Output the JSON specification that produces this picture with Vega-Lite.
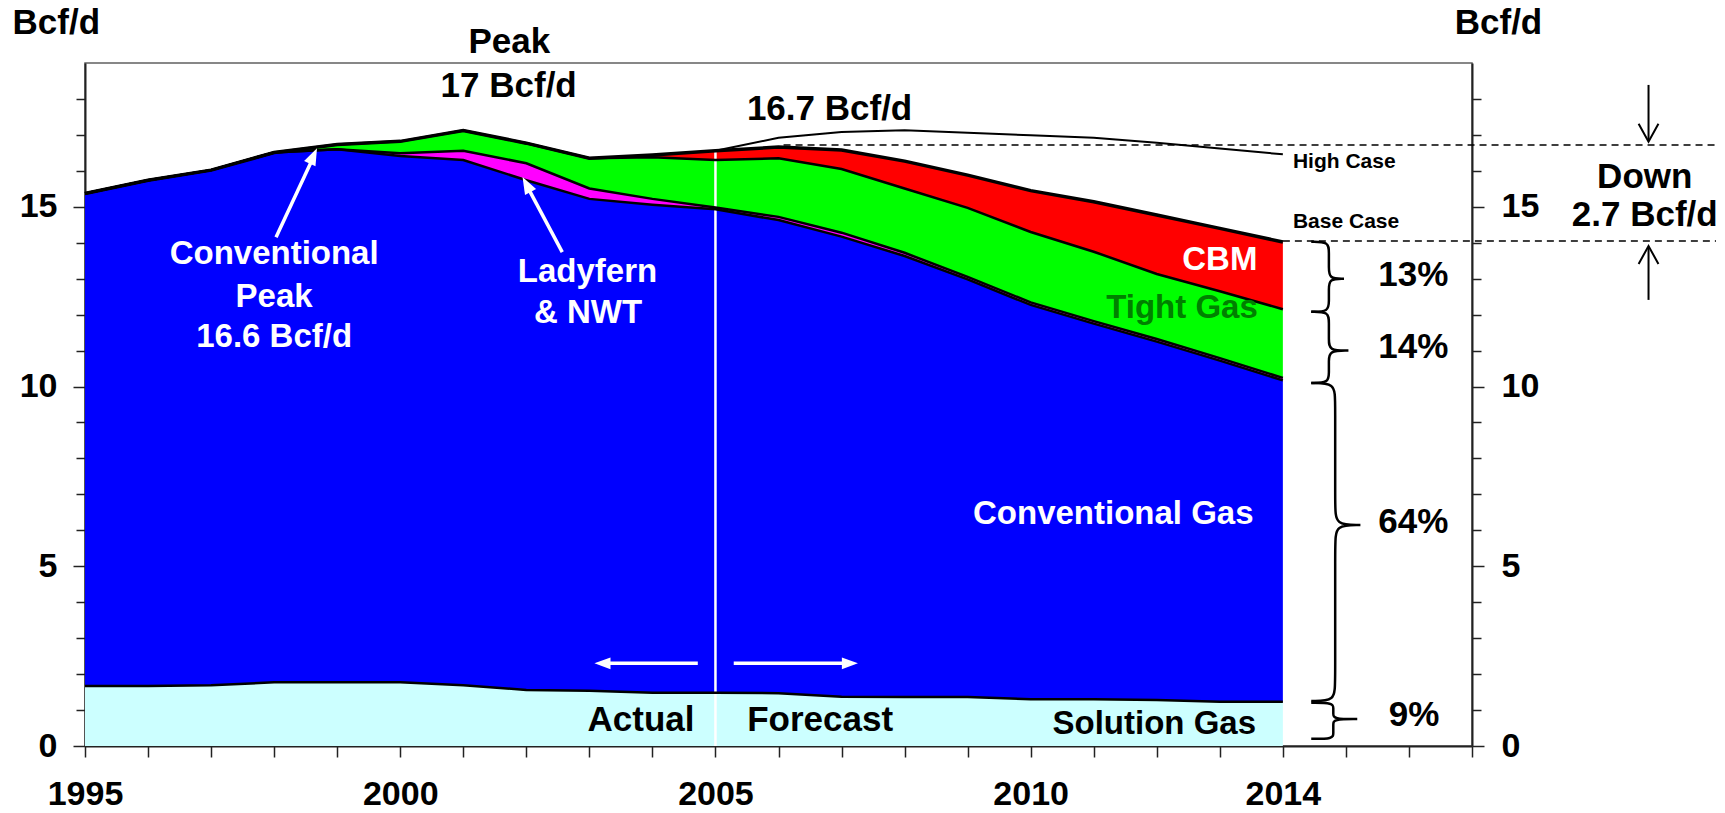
{
"$schema":"https://vega.github.io/schema/vega-lite/v6.json",
"width":1387,"height":683,"autosize":"none",
"padding":{"left":85,"top":63,"right":253,"bottom":67},
"background":"white",
"config":{
 "view":{"stroke":"#606060","strokeWidth":1.5},
 "axis":{"labelFont":"Liberation Sans","labelFontWeight":"bold","labelFontSize":34,"labelColor":"black","domainColor":"#222","domainWidth":2,"tickColor":"#222","tickWidth":1.5,"grid":false,"zindex":2},
 "text":{"font":"Liberation Sans","fontWeight":"bold"}
},
"datasets":{
 "gas":[
{"year":1995,"series":"Solution Gas","ord":1,"value":1.67},{"year":1995,"series":"Conventional Gas","ord":2,"value":13.70},{"year":1995,"series":"Ladyfern & NWT","ord":3,"value":0},{"year":1995,"series":"Tight Gas","ord":4,"value":0},{"year":1995,"series":"CBM","ord":5,"value":0},
{"year":1996,"series":"Solution Gas","ord":1,"value":1.67},{"year":1996,"series":"Conventional Gas","ord":2,"value":14.07},{"year":1996,"series":"Ladyfern & NWT","ord":3,"value":0},{"year":1996,"series":"Tight Gas","ord":4,"value":0},{"year":1996,"series":"CBM","ord":5,"value":0},
{"year":1997,"series":"Solution Gas","ord":1,"value":1.69},{"year":1997,"series":"Conventional Gas","ord":2,"value":14.33},{"year":1997,"series":"Ladyfern & NWT","ord":3,"value":0},{"year":1997,"series":"Tight Gas","ord":4,"value":0},{"year":1997,"series":"CBM","ord":5,"value":0},
{"year":1998,"series":"Solution Gas","ord":1,"value":1.77},{"year":1998,"series":"Conventional Gas","ord":2,"value":14.74},{"year":1998,"series":"Ladyfern & NWT","ord":3,"value":0},{"year":1998,"series":"Tight Gas","ord":4,"value":0},{"year":1998,"series":"CBM","ord":5,"value":0},
{"year":1999,"series":"Solution Gas","ord":1,"value":1.77},{"year":1999,"series":"Conventional Gas","ord":2,"value":14.83},{"year":1999,"series":"Ladyfern & NWT","ord":3,"value":0},{"year":1999,"series":"Tight Gas","ord":4,"value":0.13},{"year":1999,"series":"CBM","ord":5,"value":0},
{"year":2000,"series":"Solution Gas","ord":1,"value":1.77},{"year":2000,"series":"Conventional Gas","ord":2,"value":14.64},{"year":2000,"series":"Ladyfern & NWT","ord":3,"value":0.08},{"year":2000,"series":"Tight Gas","ord":4,"value":0.33},{"year":2000,"series":"CBM","ord":5,"value":0},
{"year":2001,"series":"Solution Gas","ord":1,"value":1.69},{"year":2001,"series":"Conventional Gas","ord":2,"value":14.61},{"year":2001,"series":"Ladyfern & NWT","ord":3,"value":0.26},{"year":2001,"series":"Tight Gas","ord":4,"value":0.56},{"year":2001,"series":"CBM","ord":5,"value":0},
{"year":2002,"series":"Solution Gas","ord":1,"value":1.56},{"year":2002,"series":"Conventional Gas","ord":2,"value":14.18},{"year":2002,"series":"Ladyfern & NWT","ord":3,"value":0.47},{"year":2002,"series":"Tight Gas","ord":4,"value":0.56},{"year":2002,"series":"CBM","ord":5,"value":0},
{"year":2003,"series":"Solution Gas","ord":1,"value":1.54},{"year":2003,"series":"Conventional Gas","ord":2,"value":13.68},{"year":2003,"series":"Ladyfern & NWT","ord":3,"value":0.29},{"year":2003,"series":"Tight Gas","ord":4,"value":0.84},{"year":2003,"series":"CBM","ord":5,"value":0},
{"year":2004,"series":"Solution Gas","ord":1,"value":1.48},{"year":2004,"series":"Conventional Gas","ord":2,"value":13.58},{"year":2004,"series":"Ladyfern & NWT","ord":3,"value":0.16},{"year":2004,"series":"Tight Gas","ord":4,"value":1.16},{"year":2004,"series":"CBM","ord":5,"value":0.06},
{"year":2005,"series":"Solution Gas","ord":1,"value":1.48},{"year":2005,"series":"Conventional Gas","ord":2,"value":13.45},{"year":2005,"series":"Ladyfern & NWT","ord":3,"value":0.05},{"year":2005,"series":"Tight Gas","ord":4,"value":1.32},{"year":2005,"series":"CBM","ord":5,"value":0.26},
{"year":2006,"series":"Solution Gas","ord":1,"value":1.47},{"year":2006,"series":"Conventional Gas","ord":2,"value":13.16},{"year":2006,"series":"Ladyfern & NWT","ord":3,"value":0.09},{"year":2006,"series":"Tight Gas","ord":4,"value":1.63},{"year":2006,"series":"CBM","ord":5,"value":0.31},
{"year":2007,"series":"Solution Gas","ord":1,"value":1.37},{"year":2007,"series":"Conventional Gas","ord":2,"value":12.80},{"year":2007,"series":"Ladyfern & NWT","ord":3,"value":0.11},{"year":2007,"series":"Tight Gas","ord":4,"value":1.77},{"year":2007,"series":"CBM","ord":5,"value":0.53},
{"year":2008,"series":"Solution Gas","ord":1,"value":1.36},{"year":2008,"series":"Conventional Gas","ord":2,"value":12.27},{"year":2008,"series":"Ladyfern & NWT","ord":3,"value":0.09},{"year":2008,"series":"Tight Gas","ord":4,"value":1.79},{"year":2008,"series":"CBM","ord":5,"value":0.76},
{"year":2009,"series":"Solution Gas","ord":1,"value":1.36},{"year":2009,"series":"Conventional Gas","ord":2,"value":11.62},{"year":2009,"series":"Ladyfern & NWT","ord":3,"value":0.07},{"year":2009,"series":"Tight Gas","ord":4,"value":1.92},{"year":2009,"series":"CBM","ord":5,"value":0.91},
{"year":2010,"series":"Solution Gas","ord":1,"value":1.30},{"year":2010,"series":"Conventional Gas","ord":2,"value":10.97},{"year":2010,"series":"Ladyfern & NWT","ord":3,"value":0.07},{"year":2010,"series":"Tight Gas","ord":4,"value":1.96},{"year":2010,"series":"CBM","ord":5,"value":1.15},
{"year":2011,"series":"Solution Gas","ord":1,"value":1.30},{"year":2011,"series":"Conventional Gas","ord":2,"value":10.45},{"year":2011,"series":"Ladyfern & NWT","ord":3,"value":0.07},{"year":2011,"series":"Tight Gas","ord":4,"value":1.93},{"year":2011,"series":"CBM","ord":5,"value":1.39},
{"year":2012,"series":"Solution Gas","ord":1,"value":1.28},{"year":2012,"series":"Conventional Gas","ord":2,"value":9.97},{"year":2012,"series":"Ladyfern & NWT","ord":3,"value":0.07},{"year":2012,"series":"Tight Gas","ord":4,"value":1.81},{"year":2012,"series":"CBM","ord":5,"value":1.64},
{"year":2013,"series":"Solution Gas","ord":1,"value":1.23},{"year":2013,"series":"Conventional Gas","ord":2,"value":9.49},{"year":2013,"series":"Ladyfern & NWT","ord":3,"value":0.07},{"year":2013,"series":"Tight Gas","ord":4,"value":1.86},{"year":2013,"series":"CBM","ord":5,"value":1.75},
{"year":2014,"series":"Solution Gas","ord":1,"value":1.23},{"year":2014,"series":"Conventional Gas","ord":2,"value":8.94},{"year":2014,"series":"Ladyfern & NWT","ord":3,"value":0.07},{"year":2014,"series":"Tight Gas","ord":4,"value":1.91},{"year":2014,"series":"CBM","ord":5,"value":1.87}
 ]
},
"resolve":{"axis":{"x":"independent","y":"independent"}},
"layer":[
 {
  "data":{"name":"gas"},
  "transform":[{"stack":"value","groupby":["year"],"sort":[{"field":"ord","order":"ascending"}],"as":["v0","v1"]}],
  "mark":{"type":"area","interpolate":"linear"},
  "encoding":{
   "x":{"field":"year","type":"quantitative","scale":{"domain":[1995,2017],"nice":false,"zero":false},
        "axis":{"title":null,"values":[1995,1996,1997,1998,1999,2000,2001,2002,2003,2004,2005,2006,2007,2008,2009,2010,2011,2012,2013,2014,2015,2016,2017],"format":"d","labelExpr":"indexof([1995,2000,2005,2010,2014], datum.value) >= 0 ? datum.label : ''","tickSize":11,"labelPadding":20,"labelFlush":false,"labelOverlap":false}},
   "y":{"field":"v1","type":"quantitative","scale":{"domain":[0,19],"nice":false,"zero":false},
        "axis":{"title":null,"orient":"left","values":[0,5,10,15],"tickSize":12,"labelPadding":16}},
   "y2":{"field":"v0"},
   "color":{"field":"series","type":"nominal","legend":null,
     "scale":{"domain":["Solution Gas","Conventional Gas","Ladyfern & NWT","Tight Gas","CBM"],"range":["#CCFFFF","#0000FF","#FF00FF","#00FF00","#FF0000"]}}
  }
 },
 {
  "data":{"values":[{"year":2005,"lo":0,"hi":16.56}]},
  "mark":{"type":"rule","color":"white","strokeWidth":2.5},
  "encoding":{
   "x":{"field":"year","type":"quantitative","scale":{"domain":[1995,2017],"nice":false,"zero":false},"axis":null},
   "y":{"field":"lo","type":"quantitative","scale":{"domain":[0,19],"nice":false,"zero":false},"axis":null},
   "y2":{"field":"hi"}
  }
 },
 {
  "data":{"name":"gas"},
  "transform":[{"stack":"value","groupby":["year"],"sort":[{"field":"ord","order":"ascending"}],"as":["v0","v1"]}],
  "mark":{"type":"line","color":"black","interpolate":"linear"},
  "encoding":{
   "x":{"field":"year","type":"quantitative","scale":{"domain":[1995,2017],"nice":false,"zero":false},"axis":null},
   "y":{"field":"v1","type":"quantitative","scale":{"domain":[0,19],"nice":false,"zero":false},
        "axis":{"title":null,"orient":"right","values":[0,5,10,15],"tickSize":12,"labelPadding":17}},
   "detail":{"field":"series","type":"nominal"},
   "strokeWidth":{"condition":{"test":"datum.series === 'CBM'","value":3.5},"value":2.5}
  }
 },
 {
  "data":{"values":[{"year":2005,"v":16.56},{"year":2006,"v":16.92},{"year":2007,"v":17.08},{"year":2008,"v":17.13},{"year":2009,"v":17.06},{"year":2010,"v":16.99},{"year":2011,"v":16.92},{"year":2012,"v":16.78},{"year":2013,"v":16.62},{"year":2014,"v":16.46}]},
  "mark":{"type":"line","color":"black","strokeWidth":2},
  "encoding":{
   "x":{"field":"year","type":"quantitative","scale":{"domain":[1995,2017],"nice":false,"zero":false},"axis":null},
   "y":{"field":"v","type":"quantitative","scale":{"domain":[0,19],"nice":false,"zero":false},
        "axis":{"title":null,"orient":"left","values":[1,2,3,4,6,7,8,9,11,12,13,14,16,17,18],"tickSize":9,"labels":false,"domain":false}}
  }
 },
 {
  "data":{"values":[{"x1":2006.08,"x2":2020.87,"v":16.72},{"x1":2014.0,"x2":2020.87,"v":14.05}]},
  "mark":{"type":"rule","color":"black","strokeWidth":1.5,"strokeDash":[7,5]},
  "encoding":{
   "x":{"field":"x1","type":"quantitative","scale":{"domain":[1995,2017],"nice":false,"zero":false},"axis":null},
   "x2":{"field":"x2"},
   "y":{"field":"v","type":"quantitative","scale":{"domain":[0,19],"nice":false,"zero":false},
        "axis":{"title":null,"orient":"right","values":[1,2,3,4,6,7,8,9,11,12,13,14,16,17,18],"tickSize":9,"labels":false,"domain":false}}
  }
 },
 {
  "data":{"values":[
   {"b":1,"i":0,"x":2014.45,"y":14.03},{"b":1,"i":1,"x":2014.73,"y":14.03},{"b":1,"i":2,"x":2014.73,"y":13.73},{"b":1,"i":3,"x":2014.73,"y":13.3},{"b":1,"i":4,"x":2014.73,"y":13.0},{"b":1,"i":5,"x":2014.97,"y":13.0},{"b":1,"i":6,"x":2014.97,"y":13.0},{"b":1,"i":7,"x":2014.97,"y":13.0},{"b":1,"i":8,"x":2014.73,"y":13.0},{"b":1,"i":9,"x":2014.73,"y":12.7},{"b":1,"i":10,"x":2014.73,"y":12.38},{"b":1,"i":11,"x":2014.73,"y":12.08},{"b":1,"i":12,"x":2014.45,"y":12.08},
   {"b":2,"i":0,"x":2014.45,"y":12.08},{"b":2,"i":1,"x":2014.73,"y":12.08},{"b":2,"i":2,"x":2014.73,"y":11.78},{"b":2,"i":3,"x":2014.73,"y":11.3},{"b":2,"i":4,"x":2014.73,"y":11.0},{"b":2,"i":5,"x":2015.04,"y":11.0},{"b":2,"i":6,"x":2015.04,"y":11.0},{"b":2,"i":7,"x":2015.04,"y":11.0},{"b":2,"i":8,"x":2014.73,"y":11.0},{"b":2,"i":9,"x":2014.73,"y":10.7},{"b":2,"i":10,"x":2014.73,"y":10.4},{"b":2,"i":11,"x":2014.73,"y":10.1},{"b":2,"i":12,"x":2014.45,"y":10.1},
   {"b":3,"i":0,"x":2014.45,"y":10.1},{"b":3,"i":1,"x":2014.83,"y":10.1},{"b":3,"i":2,"x":2014.83,"y":9.6},{"b":3,"i":3,"x":2014.83,"y":6.65},{"b":3,"i":4,"x":2014.83,"y":6.15},{"b":3,"i":5,"x":2015.23,"y":6.15},{"b":3,"i":6,"x":2015.23,"y":6.15},{"b":3,"i":7,"x":2015.23,"y":6.15},{"b":3,"i":8,"x":2014.83,"y":6.15},{"b":3,"i":9,"x":2014.83,"y":5.65},{"b":3,"i":10,"x":2014.83,"y":1.75},{"b":3,"i":11,"x":2014.83,"y":1.25},{"b":3,"i":12,"x":2014.45,"y":1.25},
   {"b":4,"i":0,"x":2014.45,"y":1.2},{"b":4,"i":1,"x":2014.8,"y":1.2},{"b":4,"i":2,"x":2014.8,"y":1.05},{"b":4,"i":3,"x":2014.8,"y":0.9},{"b":4,"i":4,"x":2014.8,"y":0.75},{"b":4,"i":5,"x":2015.18,"y":0.75},{"b":4,"i":6,"x":2015.18,"y":0.75},{"b":4,"i":7,"x":2015.18,"y":0.75},{"b":4,"i":8,"x":2014.8,"y":0.75},{"b":4,"i":9,"x":2014.8,"y":0.6},{"b":4,"i":10,"x":2014.8,"y":0.35},{"b":4,"i":11,"x":2014.8,"y":0.2},{"b":4,"i":12,"x":2014.45,"y":0.2}
  ]},
  "mark":{"type":"line","color":"black","strokeWidth":2.5,"interpolate":"basis"},
  "encoding":{
   "x":{"field":"x","type":"quantitative","scale":{"domain":[1995,2017],"nice":false,"zero":false},"axis":null},
   "y":{"field":"y","type":"quantitative","scale":{"domain":[0,19],"nice":false,"zero":false},"axis":null},
   "detail":{"field":"b","type":"nominal"},
   "order":{"field":"i","type":"quantitative"}
  }
 },
 {
  "data":{"values":[{"x1":1998.03,"y1":14.15,"x2":1998.62,"y2":16.37},{"x1":2002.57,"y1":13.74,"x2":2002.01,"y2":15.58},{"x1":2004.72,"y1":2.3,"x2":2003.22,"y2":2.3},{"x1":2005.29,"y1":2.3,"x2":2007.12,"y2":2.3}]},
  "mark":{"type":"rule","color":"white","strokeWidth":3.5},
  "encoding":{
   "x":{"field":"x1","type":"quantitative","scale":{"domain":[1995,2017],"nice":false,"zero":false},"axis":null},
   "y":{"field":"y1","type":"quantitative","scale":{"domain":[0,19],"nice":false,"zero":false},"axis":null},
   "x2":{"field":"x2"},"y2":{"field":"y2"}
  }
 },
 {
  "data":{"values":[{"x":1998.68,"y":16.63}]},
  "mark":{"type":"point","shape":"M0,0L0.55,1.5L-0.55,1.5Z","filled":true,"color":"white","opacity":1,"size":520,"angle":25},
  "encoding":{
   "x":{"field":"x","type":"quantitative","scale":{"domain":[1995,2017],"nice":false,"zero":false},"axis":null},
   "y":{"field":"y","type":"quantitative","scale":{"domain":[0,19],"nice":false,"zero":false},"axis":null}
  }
 },
 {
  "data":{"values":[{"x":2001.94,"y":15.83}]},
  "mark":{"type":"point","shape":"M0,0L0.55,1.5L-0.55,1.5Z","filled":true,"color":"white","opacity":1,"size":520,"angle":-28},
  "encoding":{
   "x":{"field":"x","type":"quantitative","scale":{"domain":[1995,2017],"nice":false,"zero":false},"axis":null},
   "y":{"field":"y","type":"quantitative","scale":{"domain":[0,19],"nice":false,"zero":false},"axis":null}
  }
 },
 {
  "data":{"values":[{"x":2003.08,"y":2.3}]},
  "mark":{"type":"point","shape":"M0,0L0.55,1.5L-0.55,1.5Z","filled":true,"color":"white","opacity":1,"size":460,"angle":270},
  "encoding":{
   "x":{"field":"x","type":"quantitative","scale":{"domain":[1995,2017],"nice":false,"zero":false},"axis":null},
   "y":{"field":"y","type":"quantitative","scale":{"domain":[0,19],"nice":false,"zero":false},"axis":null}
  }
 },
 {
  "data":{"values":[{"x":2007.26,"y":2.3}]},
  "mark":{"type":"point","shape":"M0,0L0.55,1.5L-0.55,1.5Z","filled":true,"color":"white","opacity":1,"size":460,"angle":90},
  "encoding":{
   "x":{"field":"x","type":"quantitative","scale":{"domain":[1995,2017],"nice":false,"zero":false},"axis":null},
   "y":{"field":"y","type":"quantitative","scale":{"domain":[0,19],"nice":false,"zero":false},"axis":null}
  }
 },
 {
  "data":{"values":[{"x":2019.8,"y1":18.39,"y2":16.85},{"x":2019.8,"y1":12.41,"y2":13.87}]},
  "mark":{"type":"rule","color":"black","strokeWidth":2},
  "encoding":{
   "x":{"field":"x","type":"quantitative","scale":{"domain":[1995,2017],"nice":false,"zero":false},"axis":null},
   "y":{"field":"y1","type":"quantitative","scale":{"domain":[0,19],"nice":false,"zero":false},"axis":null},
   "y2":{"field":"y2"}
  }
 },
 {
  "data":{"values":[{"x":2019.8,"y":16.81}]},
  "mark":{"type":"point","shape":"M-0.55,-1L0,0L0.55,-1","filled":false,"color":"black","opacity":1,"strokeWidth":2,"size":1300},
  "encoding":{
   "x":{"field":"x","type":"quantitative","scale":{"domain":[1995,2017],"nice":false,"zero":false},"axis":null},
   "y":{"field":"y","type":"quantitative","scale":{"domain":[0,19],"nice":false,"zero":false},"axis":null}
  }
 },
 {
  "data":{"values":[{"x":2019.8,"y":13.91}]},
  "mark":{"type":"point","shape":"M-0.55,1L0,0L0.55,1","filled":false,"color":"black","opacity":1,"strokeWidth":2,"size":1300},
  "encoding":{
   "x":{"field":"x","type":"quantitative","scale":{"domain":[1995,2017],"nice":false,"zero":false},"axis":null},
   "y":{"field":"y","type":"quantitative","scale":{"domain":[0,19],"nice":false,"zero":false},"axis":null}
  }
 },
 {
  "data":{"values":[
   {"t":"Peak","x":2001.73,"y":19.59},{"t":"17 Bcf/d","x":2001.72,"y":18.36},{"t":"16.7 Bcf/d","x":2006.81,"y":17.72},
   {"t":"Bcf/d","x":1994.545,"y":20.1},{"t":"Bcf/d","x":2017.42,"y":20.1},
   {"t":"Down","x":2019.74,"y":15.84},{"t":"2.7 Bcf/d","x":2019.74,"y":14.77},
   {"t":"13%","x":2016.07,"y":13.1},{"t":"14%","x":2016.07,"y":11.11},{"t":"64%","x":2016.07,"y":6.24},{"t":"9%","x":2016.08,"y":0.86},
   {"t":"Actual","x":2003.82,"y":0.72},{"t":"Forecast","x":2006.66,"y":0.72}
  ]},
  "mark":{"type":"text","color":"black","fontSize":35,"fontWeight":"bold","font":"Liberation Sans","align":"center","baseline":"middle"},
  "encoding":{
   "x":{"field":"x","type":"quantitative","scale":{"domain":[1995,2017],"nice":false,"zero":false},"axis":null},
   "y":{"field":"y","type":"quantitative","scale":{"domain":[0,19],"nice":false,"zero":false},"axis":null},
   "text":{"field":"t"}
  }
 },
 {
  "data":{"values":[{"t":"Solution Gas","x":2011.96,"y":0.62}]},
  "mark":{"type":"text","color":"black","fontSize":33,"fontWeight":"bold","font":"Liberation Sans","align":"center","baseline":"middle"},
  "encoding":{
   "x":{"field":"x","type":"quantitative","scale":{"domain":[1995,2017],"nice":false,"zero":false},"axis":null},
   "y":{"field":"y","type":"quantitative","scale":{"domain":[0,19],"nice":false,"zero":false},"axis":null},
   "text":{"field":"t"}
  }
 },
 {
  "data":{"values":[
   {"t":"Conventional","x":1998.0,"y":13.7},{"t":"Peak","x":1998.0,"y":12.5},{"t":"16.6 Bcf/d","x":1998.0,"y":11.39},
   {"t":"Ladyfern","x":2002.97,"y":13.19},{"t":"& NWT","x":2002.98,"y":12.04},
   {"t":"Conventional Gas","x":2011.31,"y":6.45},{"t":"CBM","x":2013.0,"y":13.52}
  ]},
  "mark":{"type":"text","color":"white","fontSize":33,"fontWeight":"bold","font":"Liberation Sans","align":"center","baseline":"middle"},
  "encoding":{
   "x":{"field":"x","type":"quantitative","scale":{"domain":[1995,2017],"nice":false,"zero":false},"axis":null},
   "y":{"field":"y","type":"quantitative","scale":{"domain":[0,19],"nice":false,"zero":false},"axis":null},
   "text":{"field":"t"}
  }
 },
 {
  "data":{"values":[{"t":"Tight Gas","x":2012.4,"y":12.18}]},
  "mark":{"type":"text","color":"#008000","fontSize":33,"fontWeight":"bold","font":"Liberation Sans","align":"center","baseline":"middle"},
  "encoding":{
   "x":{"field":"x","type":"quantitative","scale":{"domain":[1995,2017],"nice":false,"zero":false},"axis":null},
   "y":{"field":"y","type":"quantitative","scale":{"domain":[0,19],"nice":false,"zero":false},"axis":null},
   "text":{"field":"t"}
  }
 },
 {
  "data":{"values":[{"t":"High Case","x":2014.16,"y":16.25},{"t":"Base Case","x":2014.16,"y":14.58}]},
  "mark":{"type":"text","color":"black","fontSize":21,"fontWeight":"bold","font":"Liberation Sans","align":"left","baseline":"middle"},
  "encoding":{
   "x":{"field":"x","type":"quantitative","scale":{"domain":[1995,2017],"nice":false,"zero":false},"axis":null},
   "y":{"field":"y","type":"quantitative","scale":{"domain":[0,19],"nice":false,"zero":false},"axis":null},
   "text":{"field":"t"}
  }
 }
]
}
